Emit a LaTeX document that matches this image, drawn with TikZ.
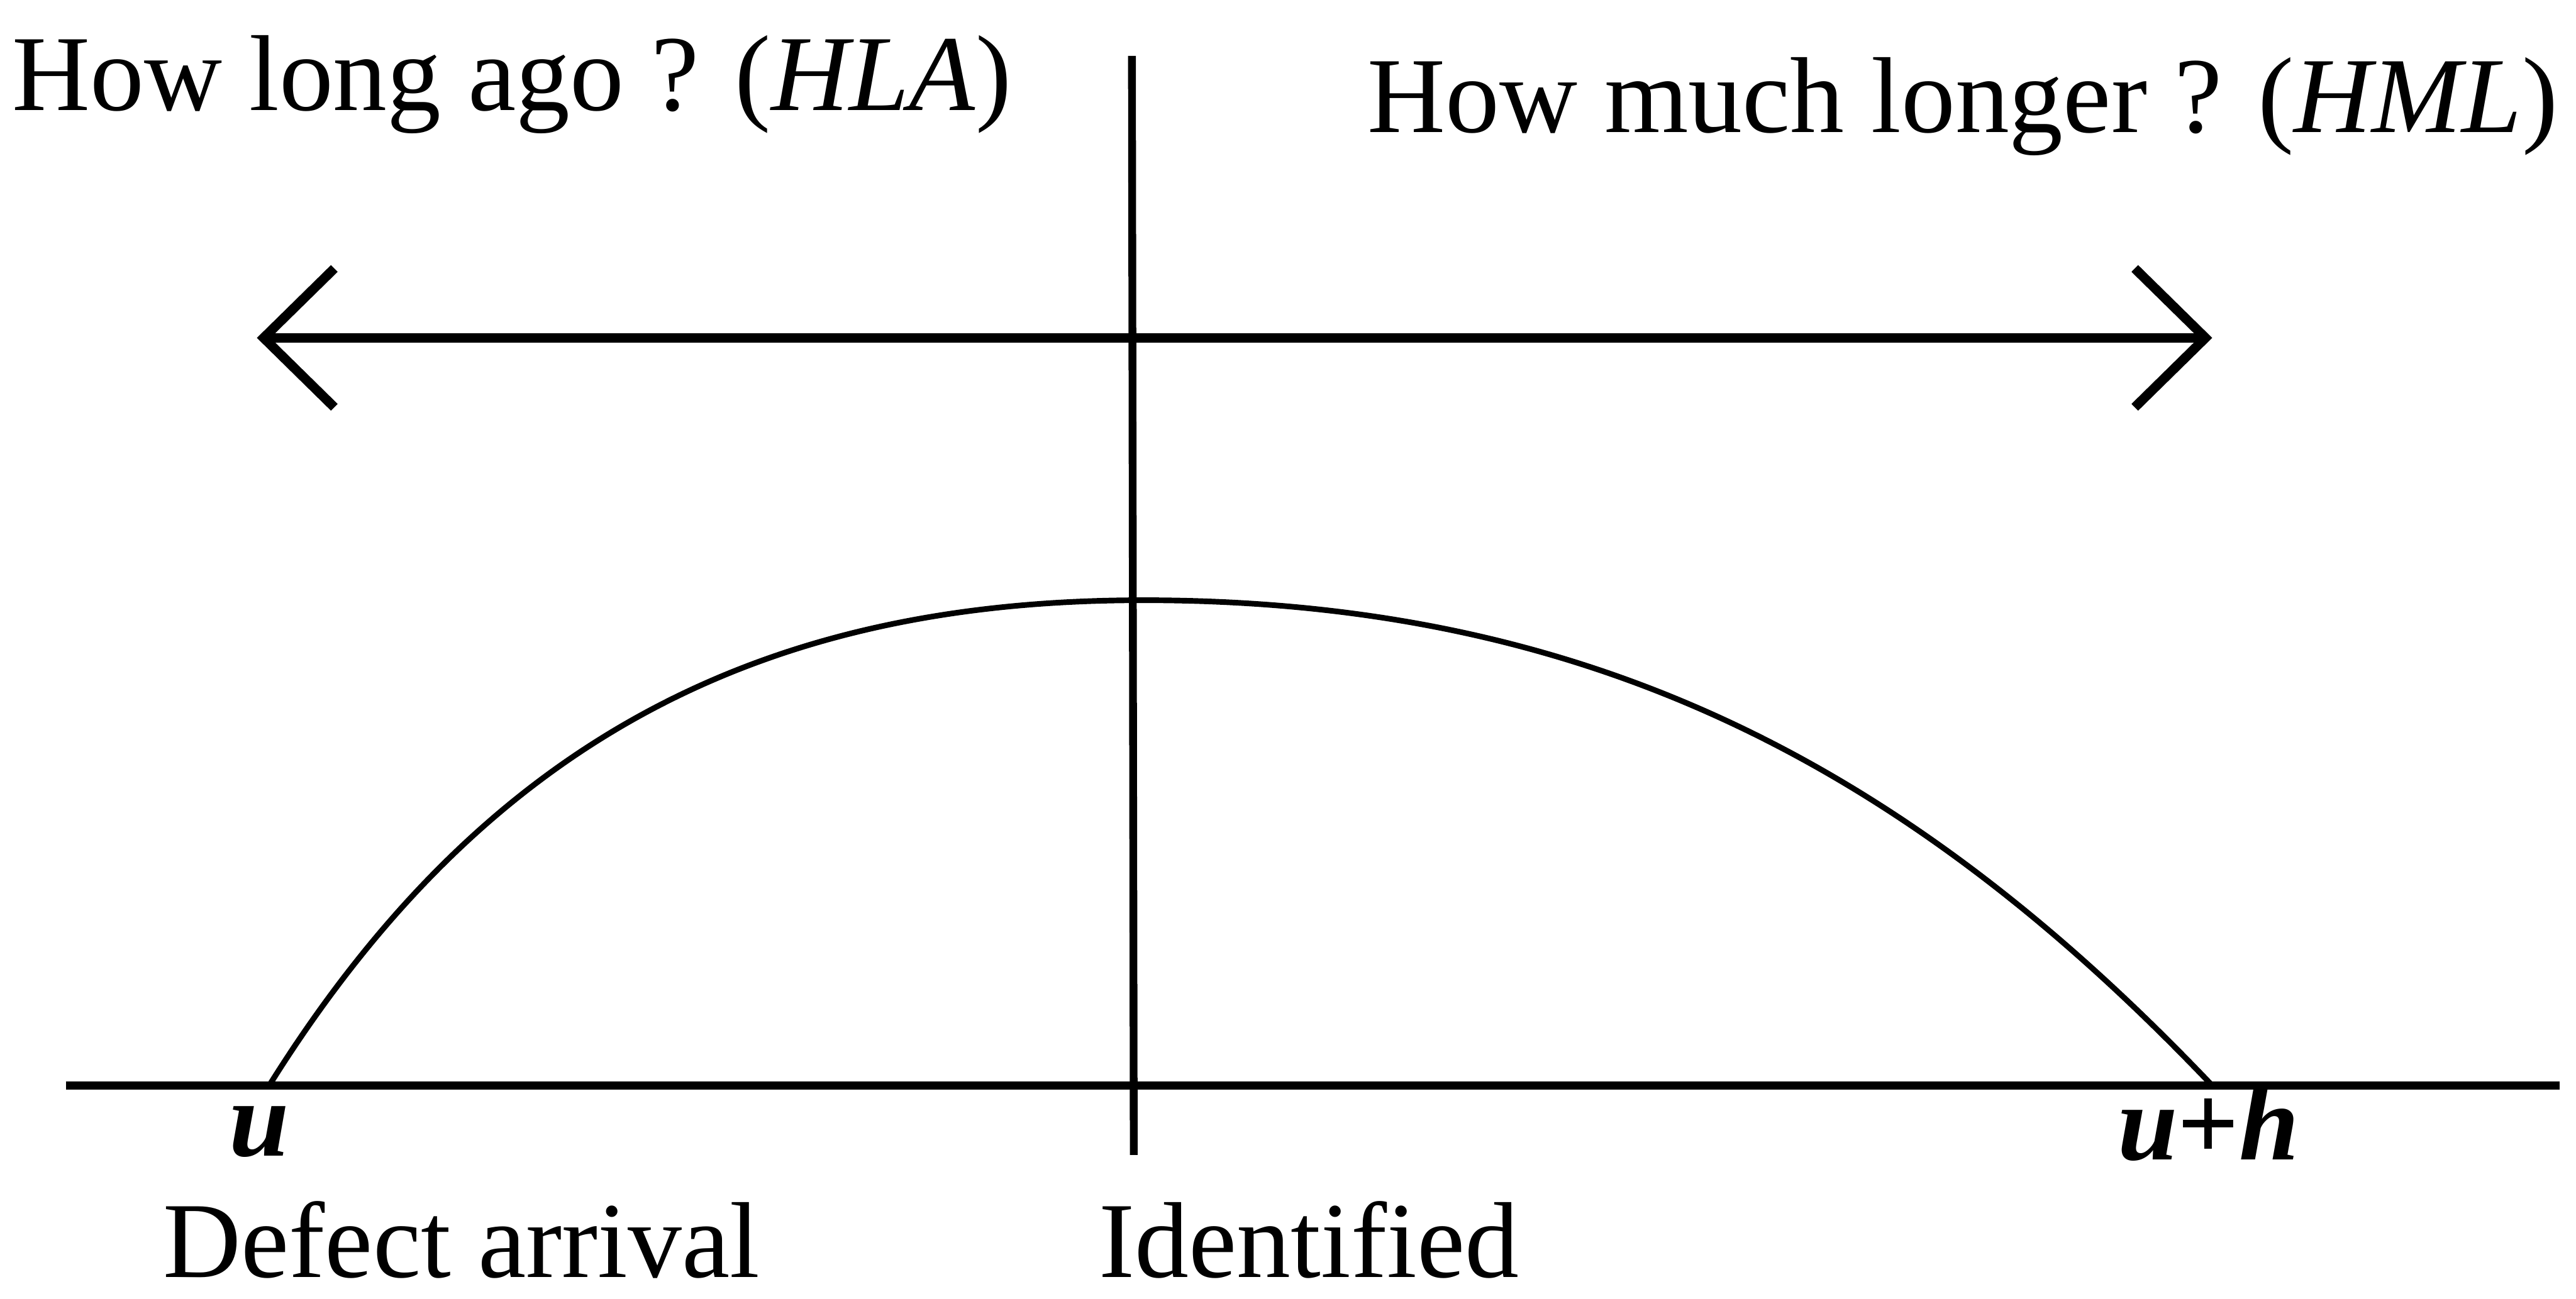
\documentclass[tikz,border=0pt]{standalone}
\usepackage{fontspec}
\setmainfont{Liberation Serif}
\usetikzlibrary{arrows.meta}

\begin{document}
\begin{tikzpicture}[x=0.5cm, y=0.5cm,
    every node/.style={inner sep=0pt, font=\fontsize{25}{30}\selectfont},
    axis/.style={line width=1.8pt},
    span/.style={line width=2.2pt, {Straight Barb[length=5.75mm, width=11.3mm]}-{Straight Barb[length=5.75mm, width=11.3mm]}},
    life/.style={line width=1.3pt}]
  \useasboundingbox (0,0) rectangle (41.92,21.14);

  % Reference points
  \coordinate (past) at (4.18,15.64);
  \coordinate (future) at (36.00,15.64);
  \coordinate (idtop) at (18.42,20.23);
  \coordinate (idbot) at (18.45,2.34);
  \coordinate (tstart) at (1.07,3.47);
  \coordinate (tend) at (41.65,3.47);
  \coordinate (arrive) at (4.38,3.47);
  \coordinate (peak) at (18.60,11.37);
  \coordinate (leave) at (36.00,3.47);

  % Axes
  \draw[axis] (tstart) -- (tend);
  \draw[axis] (idtop) -- (idbot);
  \draw[span] (past) -- (future);

  % Defect lifetime
  \draw[life] (arrive) .. controls (7.90,9.10) and (12.41,11.37) .. (peak)
    .. controls (25.80,11.37) and (30.99,8.74) .. (leave);

  % Labels
  \node[anchor=base] (hla) at (8.33,19.34) {How long ago ? (\textit{HLA})};
  \node[anchor=base] (hml) at (31.94,18.99) {How much longer ? (\textit{HML})};
  \node[anchor=base] (u) at (4.22,2.32) {\textbf{\textit{u}}};
  \node[anchor=base] (uh) at (35.94,2.26) {\textbf{\textit{u}+\textit{h}}};
  \node[anchor=base] (arrival) at (7.51,0.35) {Defect arrival};
  \node[anchor=base] (ident) at (21.30,0.35) {Identified};
\end{tikzpicture}
\end{document}
